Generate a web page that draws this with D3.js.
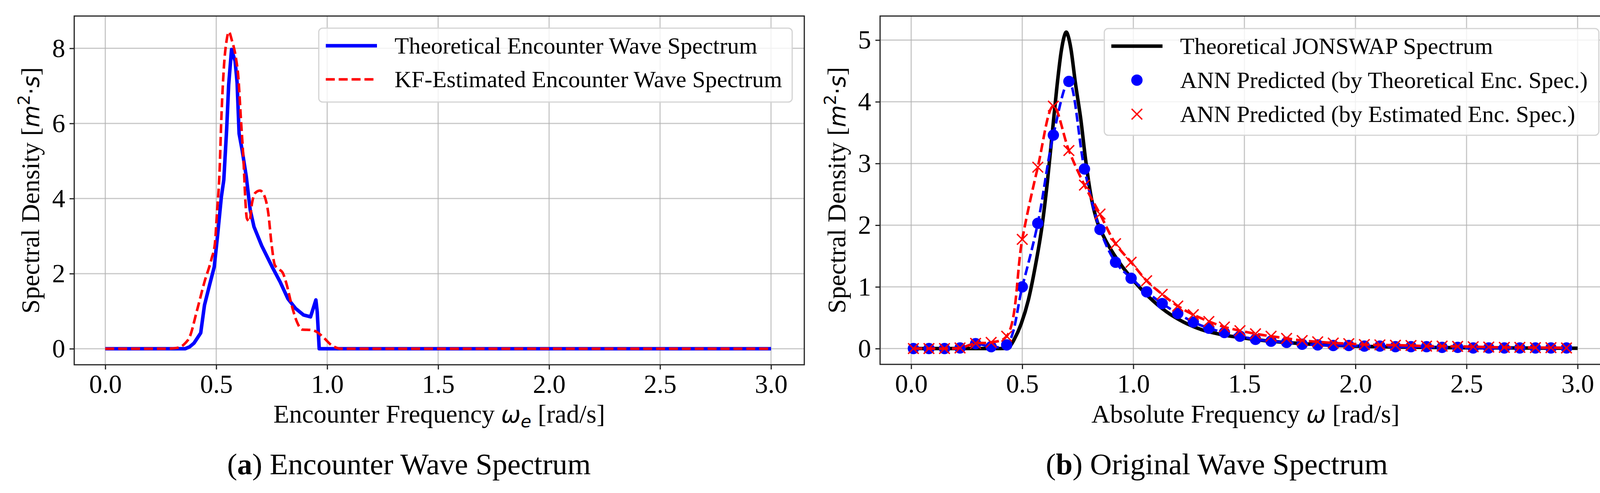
<!DOCTYPE html>
<html>
<head>
<meta charset="utf-8">
<script src="https://cdn.jsdelivr.net/npm/d3@7"></script>
<style>
    body { margin: 0; background: #fff; }
    svg { display: block; }
</style>
</head>
<body>
<div id="chart"></div>
<script>
// ---- data ----

// (a) theoretical encounter wave spectrum
const encTheoFreq = [0, 0.36, 0.38, 0.40, 0.43, 0.447, 0.47, 0.491, 0.506, 0.523, 0.534, 0.547, 0.556, 0.569,
    0.585, 0.594, 0.603, 0.617, 0.635, 0.653, 0.670, 0.705, 0.752, 0.788, 0.823, 0.858, 0.893, 0.925,
    0.949, 0.955, 0.964, 3.0];
const encTheoVal = [0, 0, 0.05, 0.15, 0.42, 1.16, 1.70, 2.18, 3.02, 4.04, 4.49, 5.85, 7.03, 7.97,
    7.66, 7.09, 5.73, 5.28, 4.60, 3.70, 3.25, 2.74, 2.18, 1.78, 1.33, 1.07, 0.90, 0.85,
    1.30, 0.99, 0, 0];

// (a) KF-estimated encounter wave spectrum
const encKfFreq = [0, 0.28, 0.33, 0.359, 0.38, 0.412, 0.447, 0.479, 0.494, 0.503, 0.515, 0.523, 0.535, 0.547,
    0.557, 0.570, 0.588, 0.600, 0.611, 0.623, 0.632, 0.638, 0.650, 0.661, 0.676, 0.697, 0.717, 0.735,
    0.749, 0.764, 0.782, 0.799, 0.817, 0.840, 0.864, 0.887, 0.928, 0.952, 0.987, 1.016, 1.04, 1.06, 3.0];
const encKfVal = [0, 0, 0.03, 0.14, 0.31, 0.99, 1.78, 2.40, 2.80, 3.59, 4.72, 6.13, 7.54, 8.22,
    8.44, 8.22, 7.77, 7.20, 6.13, 5.00, 3.87, 3.47, 3.39, 3.87, 4.15, 4.21, 4.07, 3.59,
    2.80, 2.23, 2.12, 2.03, 1.72, 1.16, 0.71, 0.51, 0.50, 0.45, 0.28, 0.11, 0.03, 0, 0];

// (b) theoretical JONSWAP spectrum
const jonswapFreq = [0, 0.40, 0.43, 0.445, 0.464, 0.495, 0.527, 0.558, 0.590, 0.613, 0.637, 0.656, 0.676,
    0.688, 0.698, 0.708, 0.719, 0.739, 0.763, 0.786, 0.810, 0.833, 0.873, 0.912, 0.950, 0.990, 1.069,
    1.148, 1.226, 1.305, 1.407, 1.5, 1.6, 1.7, 1.8, 2.0, 2.2, 2.5, 3.0];
const jonswapVal = [0, 0, 0.01, 0.04, 0.15, 0.40, 0.78, 1.32, 2.01, 2.70, 3.56, 4.24, 4.83,
    5.05, 5.13, 5.05, 4.86, 4.31, 3.73, 3.04, 2.46, 2.11, 1.77, 1.53, 1.33, 1.15, 0.84,
    0.60, 0.43, 0.31, 0.22, 0.17, 0.125, 0.095, 0.07, 0.04, 0.025, 0.013, 0.005];

// (b) ANN predictions, sampled frequencies
const annFreq = [0.01, 0.08, 0.15, 0.22, 0.29, 0.36, 0.43, 0.50, 0.57, 0.64, 0.71, 0.78, 0.85, 0.92,
    0.99, 1.06, 1.13, 1.20, 1.27, 1.34, 1.41, 1.48, 1.55, 1.62, 1.69, 1.76, 1.83, 1.90, 1.97, 2.04,
    2.11, 2.18, 2.25, 2.32, 2.39, 2.46, 2.53, 2.60, 2.67, 2.74, 2.81, 2.88, 2.95];
const annTheoVal = [0, 0, 0, 0.01, 0.08, 0.03, 0.06, 1.00, 2.03, 3.46, 4.33, 2.91, 1.93, 1.40,
    1.14, 0.92, 0.73, 0.57, 0.43, 0.33, 0.26, 0.20, 0.15, 0.12, 0.10, 0.07, 0.06, 0.05, 0.05, 0.04,
    0.04, 0.03, 0.03, 0.03, 0.02, 0.02, 0.01, 0.01, 0.01, 0.01, 0.01, 0.01, 0.01];
const annEstVal = [0, 0, 0, 0.01, 0.085, 0.10, 0.20, 1.77, 2.94, 3.93, 3.21, 2.65, 2.18, 1.70,
    1.40, 1.10, 0.88, 0.69, 0.55, 0.44, 0.35, 0.29, 0.24, 0.20, 0.165, 0.13, 0.11, 0.09, 0.08, 0.065,
    0.06, 0.055, 0.05, 0.04, 0.04, 0.035, 0.03, 0.025, 0.02, 0.02, 0.015, 0.015, 0.01];

const xTicks = [0, 0.5, 1.0, 1.5, 2.0, 2.5, 3.0];
const yTicksA = [0, 2, 4, 6, 8];
const yTicksB = [0, 1, 2, 3, 4, 5];

const legendA = ["Theoretical Encounter Wave Spectrum", "KF-Estimated Encounter Wave Spectrum"];
const legendB = ["Theoretical JONSWAP Spectrum", "ANN Predicted (by Theoretical Enc. Spec.)",
    "ANN Predicted (by Estimated Enc. Spec.)"];

// ---- layout ----
const dim = { width: 4166, height: 1261 };
const serif = "'Times New Roman', 'Liberation Serif', serif";
const mathFont = "'DejaVu Sans', sans-serif";

const svg = d3.select("#chart").append("svg")
    .attr("width", dim.width)
    .attr("height", dim.height);

svg.append("rect")
    .attr("width", dim.width)
    .attr("height", dim.height)
    .attr("fill", "#fff");

function makePanel(p) {
    const g = svg.append("g");

    const x = d3.scaleLinear()
        .domain([-0.14, 3.15])
        .range([p.left, p.right]);

    const y = d3.scaleLinear()
        .domain(p.yDomain)
        .range([p.bottom, p.top]);

    // grid
    g.append("g").selectAll("line")
        .data(xTicks)
        .enter().append("line")
        .attr("x1", d => x(d)).attr("x2", d => x(d))
        .attr("y1", p.top).attr("y2", p.bottom)
        .attr("stroke", "#b0b0b0").attr("stroke-opacity", 0.7)
        .attr("stroke-width", 3);

    g.append("g").selectAll("line")
        .data(p.yTicks)
        .enter().append("line")
        .attr("x1", p.left).attr("x2", p.right)
        .attr("y1", d => y(d)).attr("y2", d => y(d))
        .attr("stroke", "#b0b0b0").attr("stroke-opacity", 0.7)
        .attr("stroke-width", 3);

    // axes
    const xAxis = g.append("g")
        .attr("transform", `translate(0, ${p.bottom})`)
        .call(d3.axisBottom(x).tickValues(xTicks).tickFormat(d3.format(".1f"))
            .tickSize(12).tickPadding(12));

    const yAxis = g.append("g")
        .attr("transform", `translate(${p.left}, 0)`)
        .call(d3.axisLeft(y).tickValues(p.yTicks).tickFormat(d3.format("d"))
            .tickSize(12).tickPadding(11));

    [xAxis, yAxis].forEach(a => {
        a.select(".domain").remove();
        a.selectAll("line").attr("stroke", "#222").attr("stroke-width", 3);
        a.selectAll("text")
            .attr("font-family", serif)
            .attr("font-size", 67)
            .attr("fill", "#000");
    });

    // axis labels
    const xl = g.append("text")
        .attr("x", (p.left + p.right) / 2)
        .attr("y", 1081)
        .attr("text-anchor", "middle")
        .attr("font-family", serif)
        .attr("font-size", 66);
    xl.append("tspan").text(p.xLabel);
    xl.append("tspan").attr("font-family", mathFont).attr("font-style", "italic")
        .attr("font-size", 60).text("ω");
    if (p.xSub) {
        xl.append("tspan").attr("font-family", mathFont).attr("font-style", "italic")
            .attr("font-size", 44).attr("dy", 12).text(p.xSub);
        xl.append("tspan").attr("dy", -12).text(" [rad/s]");
    } else {
        xl.append("tspan").text(" [rad/s]");
    }

    const yl = g.append("text")
        .attr("transform", `translate(${p.yLabelX}, ${(p.top + p.bottom) / 2}) rotate(-90)`)
        .attr("text-anchor", "middle")
        .attr("font-family", serif)
        .attr("font-size", 66);
    yl.append("tspan").text("Spectral Density [");
    yl.append("tspan").attr("font-family", mathFont).attr("font-style", "italic")
        .attr("font-size", 58).text("m");
    yl.append("tspan").attr("font-family", mathFont).attr("font-size", 42)
        .attr("dy", -24).text("2");
    yl.append("tspan").attr("font-family", mathFont).attr("font-size", 58)
        .attr("dy", 24).text("·");
    yl.append("tspan").attr("font-family", mathFont).attr("font-style", "italic")
        .attr("font-size", 58).text("s");
    yl.append("tspan").text("]");

    // caption
    const cap = g.append("text")
        .attr("x", p.captionX)
        .attr("y", 1213)
        .attr("text-anchor", "middle")
        .attr("font-family", "'Palatino Linotype', Palatino, 'Liberation Serif', serif")
        .attr("font-size", 77);
    cap.append("tspan").text("(");
    cap.append("tspan").attr("font-weight", "bold").text(p.captionTag);
    cap.append("tspan").text(") " + p.caption);

    return { g, x, y };
}

function addLegend(g, box, rows) {
    g.append("rect")
        .attr("x", box.x0).attr("y", box.y0)
        .attr("width", box.x1 - box.x0).attr("height", box.y1 - box.y0)
        .attr("rx", 10)
        .attr("fill", "#fff").attr("fill-opacity", 0.8)
        .attr("stroke", "#d4d4d4").attr("stroke-width", 3);

    rows.forEach((r, i) => {
        const cy = box.rowY[i];
        const hx0 = box.x0 + 18, hx1 = box.x0 + 149, hm = (hx0 + hx1) / 2;
        if (r.type === "line") {
            g.append("line")
                .attr("x1", hx0).attr("x2", hx1).attr("y1", cy).attr("y2", cy)
                .attr("stroke", r.color).attr("stroke-width", r.width)
                .attr("stroke-dasharray", r.dash || null);
        } else if (r.type === "circle") {
            g.append("circle").attr("cx", hm).attr("cy", cy).attr("r", 14.5).attr("fill", r.color);
        } else {
            g.append("path").attr("d", crossPath(hm, cy, 13.5))
                .attr("stroke", r.color).attr("stroke-width", 3.5).attr("fill", "none");
        }
        g.append("text")
            .attr("x", box.x0 + 194).attr("y", cy + 20)
            .attr("font-family", serif).attr("font-size", 60)
            .text(r.label);
    });
}

function crossPath(cx, cy, s) {
    return `M${cx - s},${cy - s}L${cx + s},${cy + s}M${cx - s},${cy + s}L${cx + s},${cy - s}`;
}

function spines(g, p) {
    g.append("rect")
        .attr("x", p.left).attr("y", p.top)
        .attr("width", p.right - p.left).attr("height", p.bottom - p.top)
        .attr("fill", "none").attr("stroke", "#222").attr("stroke-width", 3);
}

// ---- panel (a) ----
const pA = {
    left: 190, right: 2059, top: 41, bottom: 933,
    yDomain: [-0.427, 8.86], yTicks: yTicksA,
    xLabel: "Encounter Frequency ", xSub: "e",
    yLabelX: 100, captionX: 1047, captionTag: "a", caption: "Encounter Wave Spectrum"
};
const a = makePanel(pA);

const lineA = d3.line()
    .x(d => a.x(d[0]))
    .y(d => a.y(d[1]));

a.g.append("path")
    .datum(d3.zip(encTheoFreq, encTheoVal))
    .attr("d", lineA)
    .attr("fill", "none").attr("stroke", "#0000ff").attr("stroke-width", 9)
    .attr("stroke-linejoin", "round");

a.g.append("path")
    .datum(d3.zip(encKfFreq, encKfVal))
    .attr("d", lineA.curve(d3.curveMonotoneX))
    .attr("fill", "none").attr("stroke", "#ff0000").attr("stroke-width", 6.5)
    .attr("stroke-dasharray", "23,10");

addLegend(a.g, { x0: 816, x1: 2028, y0: 72, y1: 261, rowY: [117, 203] }, [
    { type: "line", color: "#0000ff", width: 9, label: legendA[0] },
    { type: "line", color: "#ff0000", width: 6.5, dash: "23,10", label: legendA[1] }
]);
spines(a.g, pA);

// ---- panel (b) ----
const pB = {
    left: 2253, right: 4124, top: 41, bottom: 932,
    yDomain: [-0.256, 5.39], yTicks: yTicksB,
    xLabel: "Absolute Frequency ", xSub: null,
    yLabelX: 2164, captionX: 3115, captionTag: "b", caption: "Original Wave Spectrum"
};
const b = makePanel(pB);

const jonswapLine = d3.line()
    .x(d => b.x(d[0]))
    .y(d => b.y(d[1]))
    .curve(d3.curveMonotoneX);

const annLine = d3.line()
    .x(d => b.x(d[0]))
    .y(d => b.y(d[1]))
    .curve(d3.curveCatmullRom.alpha(0.5));

b.g.append("path")
    .datum(d3.zip(jonswapFreq, jonswapVal))
    .attr("d", jonswapLine)
    .attr("fill", "none").attr("stroke", "#000").attr("stroke-width", 9);

const theoPts = d3.zip(annFreq, annTheoVal);
const estPts = d3.zip(annFreq, annEstVal);

b.g.append("path")
    .datum(theoPts)
    .attr("d", annLine)
    .attr("fill", "none").attr("stroke", "#0000ff").attr("stroke-width", 6.5)
    .attr("stroke-dasharray", "23,10");

b.g.selectAll(".annTheo")
    .data(theoPts)
    .enter().append("circle")
    .attr("class", "annTheo")
    .attr("cx", d => b.x(d[0]))
    .attr("cy", d => b.y(d[1]))
    .attr("r", 14.5)
    .attr("fill", "#0000ff");

b.g.append("path")
    .datum(estPts)
    .attr("d", annLine)
    .attr("fill", "none").attr("stroke", "#ff0000").attr("stroke-width", 6.5)
    .attr("stroke-dasharray", "23,10");

b.g.selectAll(".annEst")
    .data(estPts)
    .enter().append("path")
    .attr("class", "annEst")
    .attr("d", d => crossPath(b.x(d[0]), b.y(d[1]), 13.5))
    .attr("stroke", "#ff0000").attr("stroke-width", 3.5)
    .attr("fill", "none");

addLegend(b.g, { x0: 2827, x1: 4093, y0: 73, y1: 346, rowY: [118, 205, 292] }, [
    { type: "line", color: "#000", width: 9, label: legendB[0] },
    { type: "circle", color: "#0000ff", label: legendB[1] },
    { type: "cross", color: "#ff0000", label: legendB[2] }
]);
spines(b.g, pB);
</script>
</body>
</html>
